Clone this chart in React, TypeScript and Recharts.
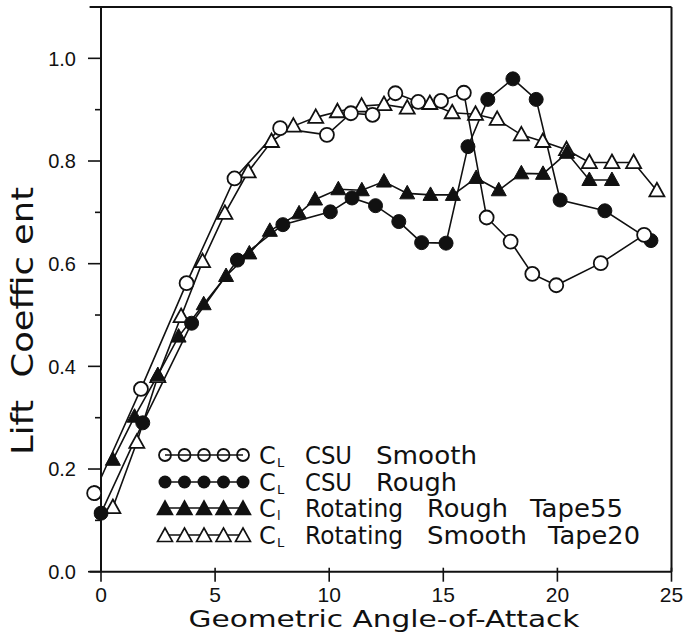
import React from "react";
import { LineChart, Line, XAxis, YAxis, ReferenceLine, ReferenceDot } from "recharts";

// CSU smooth (open circles)
const csuSmoothX = [-0.3, 1.75, 3.75, 5.85, 7.85, 9.9, 10.95, 11.9, 12.9, 13.9, 14.9, 15.9, 16.9, 17.95, 18.9, 19.95, 21.9, 23.8];
const csuSmoothY = [0.153, 0.356, 0.562, 0.766, 0.864, 0.851, 0.893, 0.89, 0.932, 0.915, 0.917, 0.933, 0.69, 0.643, 0.58, 0.558, 0.601, 0.656];

// CSU rough (filled circles)
const csuRoughX = [0, 1.83, 3.97, 5.98, 7.97, 10.05, 11.0, 12.03, 13.05, 14.05, 15.12, 16.08, 16.95, 18.05, 19.07, 20.12, 22.08, 24.1];
const csuRoughY = [0.114, 0.29, 0.484, 0.607, 0.676, 0.701, 0.728, 0.713, 0.682, 0.641, 0.64, 0.828, 0.92, 0.96, 0.92, 0.724, 0.703, 0.645];

// rotating rough tape55 (filled triangles)
const rotRoughX = [0.52, 1.47, 2.49, 3.4, 4.5, 5.48, 6.5, 7.4, 8.68, 9.38, 10.4, 11.43, 12.4, 13.42, 14.44, 15.42, 16.44, 17.43, 18.42, 19.37, 20.42, 21.4, 22.39];
const rotRoughY = [0.218, 0.302, 0.383, 0.458, 0.521, 0.576, 0.62, 0.664, 0.698, 0.725, 0.745, 0.743, 0.76, 0.737, 0.734, 0.734, 0.767, 0.743, 0.776, 0.775, 0.816, 0.763, 0.763];

// rotating smooth tape20 (open triangles)
const rotSmoothX = [0.52, 1.57, 2.49, 3.51, 4.45, 5.43, 6.45, 7.47, 8.43, 9.41, 10.36, 11.42, 12.4, 13.42, 14.41, 15.39, 16.41, 17.36, 18.42, 19.36, 20.4, 21.4, 22.39, 23.34, 24.36];
const rotSmoothY = [0.125, 0.252, 0.38, 0.497, 0.604, 0.698, 0.779, 0.838, 0.868, 0.885, 0.896, 0.907, 0.91, 0.903, 0.912, 0.894, 0.891, 0.881, 0.851, 0.838, 0.822, 0.797, 0.797, 0.797, 0.742];

const xTicks = [0, 5, 10, 15, 20, 25];
const yTicks = [0, 0.1, 0.2, 0.3, 0.4, 0.5, 0.6, 0.7, 0.8, 0.9, 1.0];

const zip = (xs: number[], ys: number[]) => xs.map((x, i) => ({ x, y: ys[i] }));

const csuSmooth = zip(csuSmoothX, csuSmoothY);
const csuRough = zip(csuRoughX, csuRoughY);
const rotRough = zip(rotRoughX, rotRoughY);
const rotSmooth = zip(rotSmoothX, rotSmoothY);

const INK = "#111";
const LABEL_FONT = "'DejaVu Sans', sans-serif";
const TICK_FONT = "'Liberation Sans', Arial, sans-serif";

const triPath = (cx: number, cy: number) =>
  `M${cx},${cy - 8} L${cx + 7.5},${cy + 5.5} L${cx - 7.5},${cy + 5.5} Z`;

const FilledTri = (p: any) => {
  if (p.cx == null || p.cy == null) return null;
  return <path key={`ft-${p.index}`} d={triPath(p.cx, p.cy)} fill={INK} stroke={INK} strokeWidth={1} />;
};

const OpenTri = (p: any) => {
  if (p.cx == null || p.cy == null) return null;
  return <path key={`ot-${p.index}`} d={triPath(p.cx, p.cy)} fill="#fff" stroke={INK} strokeWidth={1.8} />;
};

const YTick = (p: any) => {
  const v = p.payload.value;
  const major = Math.round(v * 10) % 2 === 0;
  return (
    <g>
      <line x1={p.x - (major ? 13 : 6)} x2={p.x} y1={p.y} y2={p.y} stroke={INK} strokeWidth={1.6} />
      {major && (
        <text x={p.x - 25} y={p.y} dy="0.36em" textAnchor="end" fontFamily={TICK_FONT} fontSize={20} fill={INK}>
          {v.toFixed(1)}
        </text>
      )}
    </g>
  );
};

const XTick = (p: any) => (
  <g>
    <line x1={p.x} x2={p.x} y1={p.y - 4} y2={p.y + 10} stroke={INK} strokeWidth={1.6} />
    <text x={p.x} y={p.y + 30} textAnchor="middle" fontFamily={TICK_FONT} fontSize={21} fill={INK}>
      {p.payload.value}
    </text>
  </g>
);

const YTitle = () => (
  <text
    x={33}
    y={321}
    transform="rotate(-90 33 321)"
    textAnchor="middle"
    fontFamily={LABEL_FONT}
    fontSize={31}
    fill={INK}
    style={{ whiteSpace: "pre" }}
    textLength={268}
    lengthAdjust="spacingAndGlyphs"
  >
    {"Lift  Coeffic ent"}
  </text>
);

const XTitle = () => (
  <text
    x={384}
    y={627}
    textAnchor="middle"
    fontFamily={LABEL_FONT}
    fontSize={23}
    fill={INK}
    textLength={391}
    lengthAdjust="spacingAndGlyphs"
  >
    Geometric Angle-of-Attack
  </text>
);

type Word = { t: string; x: number; w: number };
const legendRows: { kind: string; sub: string; words: Word[] }[] = [
  { kind: "oc", sub: "L", words: [{ t: "CSU", x: 305, w: 47 }, { t: "Smooth", x: 376, w: 101 }] },
  { kind: "fc", sub: "L", words: [{ t: "CSU", x: 305, w: 47 }, { t: "Rough", x: 376, w: 81 }] },
  { kind: "ft", sub: "l", words: [{ t: "Rotating", x: 305, w: 98 }, { t: "Rough", x: 427, w: 81 }, { t: "Tape55", x: 530, w: 93 }] },
  { kind: "ot", sub: "L", words: [{ t: "Rotating", x: 305, w: 98 }, { t: "Smooth", x: 427, w: 100 }, { t: "Tape20", x: 548, w: 92 }] },
];
const legendBase = [464, 491, 517, 544];
const legendMarks = [165, 184.5, 204, 223.5, 243];

const LegendBox = () => (
  <svg width={686} height={636} style={{ position: "absolute", left: 0, top: 0, pointerEvents: "none" }}>
    {legendRows.map((r, i) => {
      const b = legendBase[i];
      const cy = b - 9;
      return (
        <g key={i}>
          <line x1={165} x2={243} y1={cy} y2={cy} stroke={INK} strokeWidth={1.6} />
          {legendMarks.map((mx, j) =>
            r.kind === "oc" ? (
              <circle key={j} cx={mx} cy={cy} r={6} fill="none" stroke={INK} strokeWidth={1.8} />
            ) : r.kind === "fc" ? (
              <circle key={j} cx={mx} cy={cy} r={6.5} fill={INK} />
            ) : (
              <path key={j} d={triPath(mx, cy + 1)} fill={r.kind === "ft" ? INK : "#fff"} stroke={INK} strokeWidth={1.6} />
            )
          )}
          <text x={259} y={b} fontFamily={LABEL_FONT} fontSize={24} fill={INK}>C</text>
          <text x={277} y={b + 3} fontFamily={LABEL_FONT} fontSize={13} fill={INK}>{r.sub}</text>
          {r.words.map((w, k) => (
            <text key={k} x={w.x} y={b} fontFamily={LABEL_FONT} fontSize={24} fill={INK} textLength={w.w} lengthAdjust="spacingAndGlyphs">
              {w.t}
            </text>
          ))}
        </g>
      );
    })}
  </svg>
);

export default function App() {
  return (
    <div style={{ position: "absolute", left: 0, top: 0, width: 686, height: 636, background: "#fff" }}>
      <LineChart width={686} height={636} margin={{ top: 7, right: 14.5, left: 41, bottom: 24.3 }}>
        <XAxis
          type="number"
          dataKey="x"
          domain={[0, 25]}
          allowDataOverflow
          ticks={xTicks}
          tickSize={0}
          tickMargin={0}
          tickLine={false}
          tick={<XTick />}
          height={40}
          axisLine={{ stroke: INK, strokeWidth: 2 }}
          label={{ content: XTitle }}
        />
        <YAxis
          type="number"
          dataKey="y"
          domain={[0, 1.1]}
          allowDataOverflow
          ticks={yTicks}
          tickSize={0}
          tickMargin={0}
          tickLine={false}
          tick={<YTick />}
          width={60}
          axisLine={{ stroke: INK, strokeWidth: 2 }}
          label={{ content: YTitle }}
        />
        <ReferenceLine
          segment={[{ x: -0.5, y: 1.1 }, { x: 25, y: 1.1 }]}
          ifOverflow="visible"
          stroke={INK}
          strokeWidth={2}
        />
        <ReferenceLine
          segment={[{ x: -0.5, y: 0 }, { x: 0, y: 0 }]}
          ifOverflow="visible"
          stroke={INK}
          strokeWidth={2}
        />
        <ReferenceLine x={25} stroke={INK} strokeWidth={2} />
        <Line data={rotSmooth} dataKey="y" stroke={INK} strokeWidth={1.6} dot={<OpenTri />} isAnimationActive={false} />
        <Line data={rotRough} dataKey="y" stroke={INK} strokeWidth={1.6} dot={<FilledTri />} isAnimationActive={false} />
        <Line
          data={csuRough}
          dataKey="y"
          stroke={INK}
          strokeWidth={1.6}
          dot={{ r: 7, fill: INK, stroke: INK, strokeWidth: 1, clipDot: false }}
          isAnimationActive={false}
        />
        <Line
          data={csuSmooth}
          dataKey="y"
          stroke={INK}
          strokeWidth={1.6}
          dot={{ r: 7, fill: "#fff", stroke: INK, strokeWidth: 1.8, clipDot: false }}
          isAnimationActive={false}
        />
        {/* first smooth point sits just left of x=0; draw it unclipped */}
        <ReferenceDot
          x={csuSmooth[0].x}
          y={csuSmooth[0].y}
          r={7}
          fill="#fff"
          stroke={INK}
          strokeWidth={1.8}
          ifOverflow="visible"
        />
      </LineChart>
      <LegendBox />
    </div>
  );
}
